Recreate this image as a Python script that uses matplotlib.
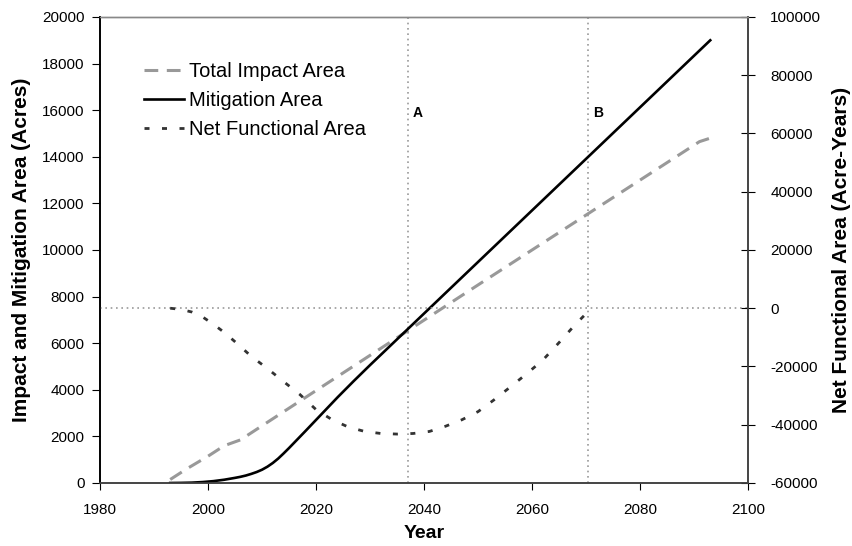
import matplotlib
matplotlib.use("Agg")
import matplotlib.pyplot as plt

plt.rcParams["font.family"] = ["Liberation Sans", "DejaVu Sans"]
plt.rcParams["axes.unicode_minus"] = False

# Total impact area (acres)
impact_years = [1993, 1996, 2000, 2003, 2006, 2023, 2050, 2070, 2091, 2093]
impact_area = [150, 600, 1150, 1600, 1850, 4420, 8500, 11500, 14650, 14800]

# Mitigation area (acres)
mitigation_years = [1993, 1995, 1997, 1999, 2001, 2003, 2004, 2005, 2006, 2007,
                    2008, 2009, 2010, 2011, 2012, 2013, 2014, 2015, 2016, 2018,
                    2021, 2024, 2027, 2030, 2093]
mitigation_area = [0, 5, 15, 40, 80, 140, 180, 220, 265, 320,
                   390, 470, 570, 700, 860, 1050, 1270, 1500, 1740, 2220,
                   2950, 3680, 4380, 5060, 19000]

# Net functional area (acre-years)
net_years = [1993, 1995, 1997, 1999, 2001, 2003, 2005, 2008, 2011, 2014, 2017, 2020,
             2023, 2026, 2029, 2032, 2035, 2038, 2041, 2044, 2047, 2050, 2053, 2056,
             2059, 2062, 2065, 2068, 2071]
net_area = [0, -400, -1300, -3000, -5500, -8300, -11500, -16500, -20700, -25200,
            -29600, -34800, -38300, -40800, -42300, -43000, -43200, -43000, -42300,
            -40500, -38300, -35500, -31400, -27000, -22500, -17800, -11800, -5600, 0]

# Reference markers
marker_years = [2037, 2070.3]
marker_labels = ["A", "B"]

fig = plt.figure(figsize=(8.52, 5.46), dpi=100)
ax = fig.add_axes([0.1174, 0.1154, 0.7606, 0.8535])
ax2 = ax.twinx()

ax.set_xlim(1980, 2100)
ax.set_ylim(0, 20000)
ax2.set_ylim(-60000, 100000)

ref_color = "#9a9a9a"
for yr in marker_years:
    ax.axvline(yr, color=ref_color, lw=1.2, linestyle=(0, (1, 2.2)), zorder=1)
ax2.axhline(0, color=ref_color, lw=1.2, linestyle=(0, (1, 2.2)), zorder=1)

l1, = ax.plot(impact_years, impact_area, color="#999999", lw=2.2,
              linestyle=(0, (4.5, 2.8)), label="Total Impact Area", zorder=3)
l2, = ax.plot(mitigation_years, mitigation_area, color="black", lw=1.9,
              label="Mitigation Area", zorder=4)
l3, = ax2.plot(net_years, net_area, color="#333333", lw=2.0,
               linestyle=(0, (1.8, 4.5)), label="Net Functional Area", zorder=3)

for yr, lab in zip(marker_years, marker_labels):
    ax.text(yr + 1.9, 15900, lab, fontsize=10, fontweight="bold",
            ha="center", va="center")

ax.set_xticks(range(1980, 2101, 20))
ax.set_yticks(range(0, 20001, 2000))
ax2.set_yticks(range(-60000, 100001, 20000))

ax.tick_params(axis="x", direction="out", length=5, labelsize=11, pad=9.5)
ax.tick_params(axis="y", direction="out", length=6, labelsize=11, pad=5)
ax2.tick_params(axis="y", direction="inout", length=10, labelsize=11, pad=11)

ax.set_xlabel("Year", fontsize=14, fontweight="bold", labelpad=6)
ax.set_ylabel("Impact and Mitigation Area (Acres)", fontsize=15,
              fontweight="bold", labelpad=8)
ax2.set_ylabel("Net Functional Area (Acre-Years)", fontsize=15,
               fontweight="bold", labelpad=8)

for a in (ax, ax2):
    a.spines["left"].set_color("black")
    a.spines["bottom"].set_color("#444444")
    a.spines["right"].set_color("#444444")
    a.spines["top"].set_color("#888888")
    a.spines["top"].set_linewidth(1.0)
    a.spines["left"].set_linewidth(1.2)
    a.spines["right"].set_linewidth(1.2)
    a.spines["bottom"].set_linewidth(1.2)

ax2.legend(handles=[l1, l2, l3], loc="upper left",
           bbox_to_anchor=(0.055, 0.921), frameon=False, fontsize=14.5,
           handlelength=2.0, handletextpad=0.25, labelspacing=0.5,
           borderaxespad=0.0)

fig.savefig("out.png", dpi=100)
